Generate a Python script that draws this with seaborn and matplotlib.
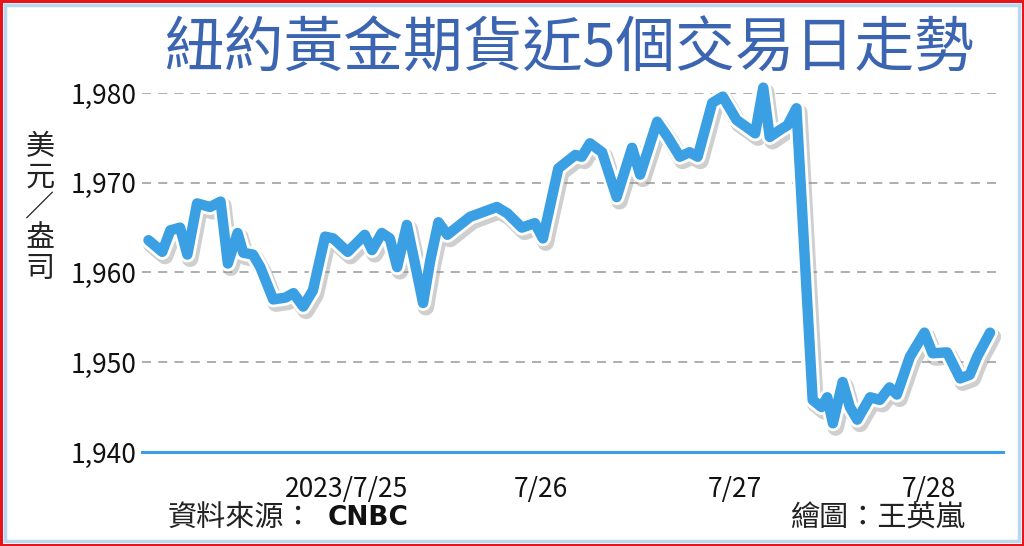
import numpy as np
import matplotlib.pyplot as plt
import matplotlib.patheffects as pe
from matplotlib.patches import Rectangle
import seaborn as sns
import pandas as pd

# hours relative to 2023/7/25 00:00 (tick position), gold futures price
hours = [-24.4, -22.7, -21.7, -20.5, -19.6, -18.4, -16.8, -15.5, -14.6, -13.4,
         -12.7, -11.5, -10.6, -9.0, -7.5, -6.5, -5.3, -4.1, -2.6, -1.6,
         0.2, 2.3, 3.2, 4.4, 5.4, 6.3, 7.5, 8.5, 9.5, 10.4,
         11.4, 12.5, 15.3, 18.6, 19.9, 21.7, 23.3, 24.3, 26.2, 28.3,
         29.1, 30.1, 31.6, 33.4, 35.3, 36.3, 38.4, 39.7, 41.2, 42.4,
         43.4, 45.2, 46.5, 48.2, 49.9, 50.5, 51.5, 52.3, 53.6, 54.5,
         55.6, 57.6, 58.7, 59.4, 60.1, 61.3, 62.2, 63.1, 64.7, 65.9,
         67.1, 68.0, 69.6, 71.4, 72.4, 74.2, 75.8, 77.0, 77.9, 79.5]
price = [1963.6, 1962.3, 1964.7, 1965.0, 1962.0, 1967.7, 1967.3, 1967.9, 1961.0, 1964.4,
         1962.2, 1962.0, 1960.6, 1957.0, 1957.2, 1957.7, 1956.2, 1958.0, 1964.0, 1963.8,
         1962.3, 1964.2, 1962.5, 1964.4, 1963.8, 1960.6, 1965.3, 1961.0, 1956.6, 1961.4,
         1965.6, 1964.2, 1966.2, 1967.3, 1966.6, 1965.0, 1965.5, 1963.8, 1971.6, 1973.1,
         1972.9, 1974.4, 1973.4, 1968.4, 1973.9, 1970.9, 1976.8, 1975.1, 1972.9, 1973.4,
         1972.9, 1978.9, 1979.6, 1977.0, 1975.9, 1975.5, 1980.6, 1975.1, 1975.9, 1976.4,
         1978.3, 1945.8, 1945.0, 1946.1, 1943.2, 1947.8, 1945.0, 1943.6, 1946.1, 1945.8,
         1947.2, 1946.4, 1950.6, 1953.3, 1951.0, 1951.1, 1948.2, 1948.6, 1950.6, 1953.3]

tick_pos = [0, 24, 48, 72]
tick_labels = ['2023/7/25', '7/26', '7/27', '7/28']
y_ticks = [1940, 1950, 1960, 1970, 1980]

title = '紐約黃金期貨近5個交易日走勢'
ylabel = '美元／盎司'
source = '資料來源：'
source_b = 'CNBC'
credit = '繪圖：王英嵐'

sns.set_theme(style='white')
plt.rcParams['font.family'] = ['Noto Sans CJK TC', 'DejaVu Sans']

line_c = '#3a9fe3'
title_c = '#3b65b0'

df = pd.DataFrame({'hours': hours, 'price': price})

fig = plt.figure(figsize=(10.24, 5.46), dpi=100)
ax = fig.add_axes([142/1024, 94/546, 861/1024, 359/546])

sns.lineplot(data=df, x='hours', y='price', ax=ax, color=line_c, linewidth=7.5,
             solid_joinstyle='round', solid_capstyle='round', clip_on=False,
             path_effects=[pe.SimpleLineShadow(offset=(2, -3), shadow_color='#888888', alpha=0.4, linewidth=12),
                           pe.Stroke(linewidth=11.5, foreground='white'),
                           pe.Normal()])

ax.set_xlim(-25.2, 81.1)
ax.set_ylim(1940, 1980)
ax.set_yticks(y_ticks)
ax.set_yticklabels([f'{v:,}' for v in y_ticks])
ax.set_xticks(tick_pos)
ax.set_xticklabels(tick_labels)
ax.set_xlabel('')
ax.set_ylabel('')

for v in y_ticks[1:]:
    ax.axhline(v, color='#a8a8a8', lw=1.3, ls=(0, (5, 4)), zorder=0)

for s in ['left', 'right', 'top']:
    ax.spines[s].set_visible(False)
ax.spines['bottom'].set_color(line_c)
ax.spines['bottom'].set_linewidth(2.2)
ax.tick_params(axis='x', colors=line_c, direction='out', length=5, width=2,
               labelcolor='#111111', labelsize=19, pad=12)
ax.tick_params(axis='y', length=0, labelcolor='#111111', labelsize=19, pad=4)
ax.set_facecolor('none')

fig.text(569/1024, 1 - 50/546, title, ha='center', va='center',
         fontsize=43, fontweight='medium', color=title_c)
fig.text(40/1024, 1 - 208/546, '\n'.join(ylabel), ha='center', va='center',
         fontsize=21, color='#222222', linespacing=1.02)
fig.text(168/1024, 1 - 518/546, source, ha='left', va='center',
         fontsize=21, color='#222222')
fig.text(328/1024, 1 - 518/546, source_b, ha='left', va='center',
         fontsize=19, color='#111111', fontweight='bold', family='DejaVu Sans')
fig.text(965/1024, 1 - 518/546, credit, ha='right', va='center',
         fontsize=21, color='#222222')

# frames
fig.patches.append(Rectangle((1/1024, 1/546), 1022/1024, 544/546, transform=fig.transFigure,
                             fill=False, edgecolor='#e8141c', linewidth=2.2))
fig.patches.append(Rectangle((5/1024, 5/546), 1014/1024, 536/546, transform=fig.transFigure,
                             fill=False, edgecolor='#b8d8ef', linewidth=2.5))

fig.savefig('out.png', dpi=100)
